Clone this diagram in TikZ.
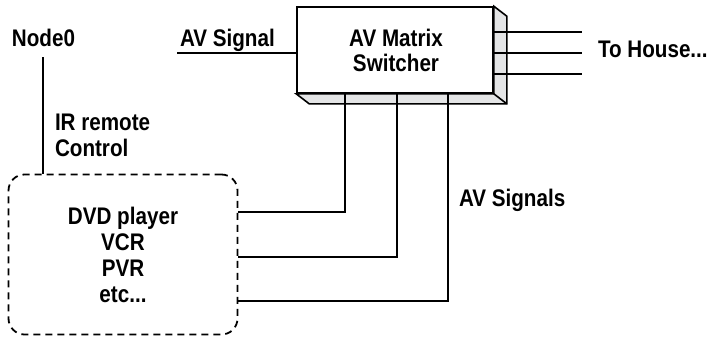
\documentclass[tikz,border=0pt]{standalone}
\usepackage{fontspec}
\setmainfont{Liberation Sans}[FakeStretch=0.86]
\definecolor{face}{HTML}{E4E5E6}
\begin{document}
\begin{tikzpicture}[x=1pt,y=-1pt,
  lbl/.style={font=\fontsize{24}{26}\selectfont\bfseries, inner sep=0pt, outer sep=0pt},
  wire/.style={line width=1.3pt, line cap=rect},
  boxline/.style={line width=1.6pt, line join=miter},
  dashbox/.style={draw, line width=1.8pt, dash pattern=on 7pt off 5pt, rounded corners=16pt,
    minimum width=229pt, minimum height=160pt, inner sep=0pt}]
\useasboundingbox (0,0) rectangle (713,338);

% 3D switcher box
\node[draw, boxline, fill=white, minimum width=196pt, minimum height=86pt, inner sep=0pt] (sw) at (395,50) {};
\filldraw[boxline, fill=face] (sw.south west) -- ++(13,10) -- ([xshift=13pt,yshift=-10pt]sw.south east)
  -- ([xshift=13pt,yshift=-10pt]sw.north east) -- (sw.north east) -- (sw.south east) -- cycle;
\draw[boxline] (sw.south east) -- ++(13,10);
\node[lbl, anchor=base] (t1) at (396,46) {AV Matrix};
\node[lbl, anchor=base] (t2) at (396,71) {Switcher};

% dashed device box
\node[dashbox] (dev) at (123,254.5) {};
\node[lbl, anchor=base] (d1) at (123,224) {DVD player};
\node[lbl, anchor=base] (d2) at (123,250) {VCR};
\node[lbl, anchor=base] (d3) at (123,276) {PVR};
\node[lbl, anchor=base] (d4) at (123,302) {etc...};

% labels
\node[lbl, anchor=base] (node0) at (43.5,46) {Node0};
\node[lbl, anchor=base west] (avsig) at (180,46) {AV Signal};
\node[lbl, anchor=base west] (ir1) at (55,130) {IR remote};
\node[lbl, anchor=base west] (ir2) at (55,156) {Control};
\node[lbl, anchor=base west] (house) at (598,57) {To House...};
\node[lbl, anchor=base west] (avs) at (459,206) {AV Signals};

% connectors
\coordinate (n0) at (43,58);
\draw[wire] (n0) -- (n0 |- dev.north);
\coordinate (ain) at (178,53);
\draw[wire] (ain) -- (ain -| sw.west);
\foreach \y in {32,53,74}{
  \coordinate (r\y) at (581,\y);
  \draw[wire] (r\y -| sw.east) -- (r\y);
}
\foreach \x/\y in {345/212,397/257,448/301}{
  \coordinate (b\x) at (\x,\y);
  \draw[wire] (b\x |- sw.south) -- (b\x) -- (b\x -| dev.east);
}
\end{tikzpicture}
\end{document}
